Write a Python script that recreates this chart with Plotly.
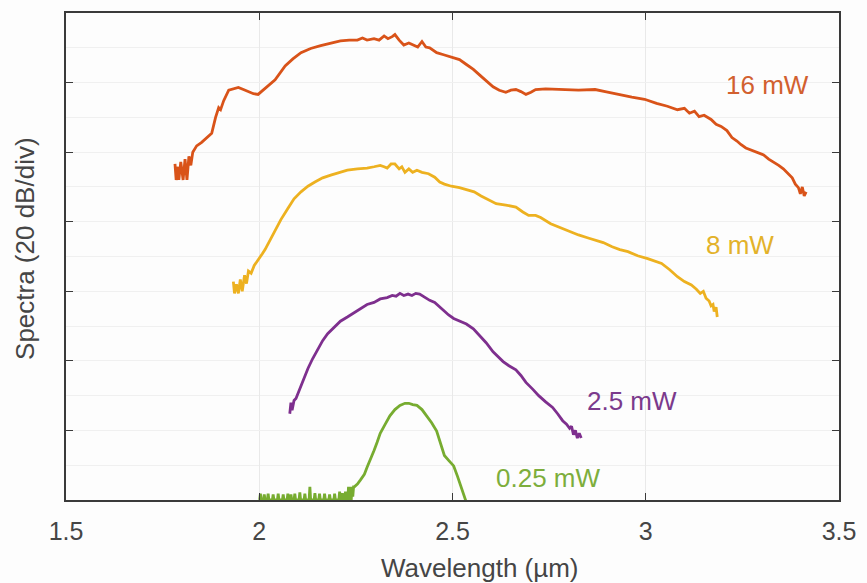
import plotly.graph_objects as go

# ---- data (wavelength in µm, level in divisions of 20 dB) ----
x16 = [1.782, 1.785, 1.790, 1.792, 1.797, 1.803, 1.808, 1.813, 1.818, 1.823, 1.828, 1.838, 1.851, 1.864,
       1.877, 1.887, 1.895, 1.900, 1.908, 1.921, 1.936, 1.946, 1.959, 1.972, 1.985, 1.997, 2.010, 2.023,
       2.041, 2.067, 2.087, 2.108, 2.133, 2.159, 2.185, 2.210, 2.233, 2.254, 2.267, 2.279, 2.297, 2.310,
       2.323, 2.333, 2.344, 2.351, 2.362, 2.374, 2.387, 2.400, 2.410, 2.421, 2.431, 2.441, 2.459, 2.477,
       2.497, 2.518, 2.536, 2.554, 2.572, 2.587, 2.605, 2.621, 2.638, 2.651, 2.664, 2.677, 2.690, 2.703,
       2.715, 2.741, 2.767, 2.792, 2.826, 2.851, 2.869, 2.895, 2.928, 2.964, 2.997, 3.028, 3.056, 3.082,
       3.100, 3.113, 3.126, 3.138, 3.151, 3.169, 3.182, 3.195, 3.210, 3.223, 3.236, 3.246, 3.259, 3.274,
       3.287, 3.305, 3.318, 3.331, 3.344, 3.356, 3.369, 3.379, 3.387, 3.395, 3.400, 3.405, 3.410, 3.415]
y16 = [4.83, 4.60, 4.79, 4.60, 4.86, 4.60, 4.90, 4.60, 4.94, 4.81, 5.00, 5.09, 5.14, 5.20,
       5.27, 5.50, 5.64, 5.61, 5.74, 5.89, 5.91, 5.93, 5.90, 5.87, 5.84, 5.83, 5.89, 5.96,
       6.04, 6.24, 6.34, 6.43, 6.49, 6.53, 6.57, 6.60, 6.61, 6.61, 6.64, 6.61, 6.63, 6.61,
       6.67, 6.63, 6.66, 6.69, 6.61, 6.54, 6.57, 6.54, 6.51, 6.59, 6.51, 6.50, 6.43, 6.40,
       6.37, 6.33, 6.26, 6.19, 6.10, 6.03, 5.94, 5.89, 5.86, 5.89, 5.90, 5.87, 5.83, 5.86,
       5.90, 5.91, 5.91, 5.90, 5.89, 5.90, 5.90, 5.87, 5.83, 5.79, 5.76, 5.70, 5.66, 5.61,
       5.63, 5.56, 5.59, 5.51, 5.53, 5.47, 5.40, 5.37, 5.31, 5.21, 5.16, 5.11, 5.06, 5.03,
       5.00, 4.96, 4.90, 4.86, 4.81, 4.76, 4.69, 4.63, 4.54, 4.49, 4.40, 4.50, 4.37, 4.43]

x8 = [1.933, 1.936, 1.941, 1.946, 1.951, 1.956, 1.962, 1.967, 1.972, 1.979, 1.987, 1.997, 2.008, 2.015,
      2.028, 2.041, 2.056, 2.074, 2.090, 2.108, 2.126, 2.144, 2.164, 2.185, 2.208, 2.228, 2.254, 2.279,
      2.297, 2.313, 2.323, 2.331, 2.341, 2.351, 2.362, 2.369, 2.377, 2.387, 2.397, 2.408, 2.421, 2.438,
      2.454, 2.467, 2.479, 2.497, 2.518, 2.536, 2.556, 2.574, 2.595, 2.613, 2.638, 2.664, 2.682, 2.697,
      2.715, 2.728, 2.754, 2.785, 2.805, 2.826, 2.849, 2.869, 2.890, 2.913, 2.933, 2.954, 2.979, 3.005,
      3.023, 3.041, 3.062, 3.082, 3.100, 3.118, 3.131, 3.141, 3.149, 3.156, 3.164, 3.169, 3.174, 3.177,
      3.182, 3.185]
y8 = [3.14, 2.97, 3.10, 2.97, 3.17, 3.00, 3.23, 3.11, 3.29, 3.26, 3.37, 3.46, 3.54, 3.60,
      3.74, 3.89, 4.03, 4.19, 4.33, 4.43, 4.51, 4.57, 4.63, 4.67, 4.71, 4.74, 4.76, 4.77,
      4.79, 4.81, 4.79, 4.77, 4.83, 4.83, 4.76, 4.79, 4.71, 4.76, 4.71, 4.74, 4.71, 4.69,
      4.64, 4.57, 4.54, 4.51, 4.49, 4.46, 4.43, 4.37, 4.31, 4.26, 4.24, 4.21, 4.14, 4.09,
      4.09, 4.06, 3.97, 3.90, 3.86, 3.81, 3.77, 3.74, 3.70, 3.64, 3.60, 3.57, 3.51, 3.47,
      3.43, 3.40, 3.31, 3.21, 3.14, 3.09, 3.03, 2.97, 3.00, 2.90, 2.86, 2.79, 2.81, 2.71,
      2.77, 2.63]

x25 = [2.079, 2.082, 2.085, 2.090, 2.095, 2.100, 2.113, 2.126, 2.138, 2.151, 2.164, 2.177, 2.192, 2.210,
       2.228, 2.246, 2.264, 2.279, 2.297, 2.313, 2.331, 2.344, 2.354, 2.364, 2.374, 2.385, 2.395, 2.405,
       2.415, 2.428, 2.441, 2.454, 2.467, 2.477, 2.490, 2.503, 2.518, 2.536, 2.554, 2.569, 2.587, 2.605,
       2.618, 2.631, 2.646, 2.664, 2.677, 2.690, 2.708, 2.723, 2.741, 2.759, 2.772, 2.785, 2.795, 2.803,
       2.808, 2.813, 2.818, 2.823, 2.828, 2.833]
y25 = [1.24, 1.40, 1.29, 1.43, 1.46, 1.53, 1.71, 1.89, 2.03, 2.16, 2.29, 2.39, 2.47, 2.57,
       2.63, 2.69, 2.76, 2.81, 2.84, 2.89, 2.91, 2.94, 2.93, 2.97, 2.94, 2.96, 2.94, 2.97,
       2.96, 2.91, 2.87, 2.84, 2.77, 2.73, 2.66, 2.61, 2.57, 2.53, 2.46, 2.37, 2.26, 2.13,
       2.06, 1.99, 1.93, 1.87, 1.79, 1.69, 1.59, 1.50, 1.41, 1.33, 1.24, 1.14, 1.09, 1.03,
       1.06, 0.94, 1.00, 0.89, 0.96, 0.89]

x025 = [2.001, 2.003, 2.005, 2.011, 2.013, 2.015, 2.021, 2.023, 2.025, 2.034, 2.036, 2.038, 2.047, 2.049,
        2.051, 2.060, 2.062, 2.064, 2.072, 2.074, 2.076, 2.080, 2.082, 2.084, 2.090, 2.092, 2.094, 2.103,
        2.105, 2.107, 2.116, 2.118, 2.120, 2.129, 2.131, 2.133, 2.142, 2.144, 2.146, 2.154, 2.156, 2.158,
        2.167, 2.169, 2.171, 2.180, 2.182, 2.184, 2.193, 2.195, 2.197, 2.206, 2.208, 2.210, 2.213, 2.215,
        2.217, 2.221, 2.223, 2.225, 2.229, 2.231, 2.234, 2.236, 2.238, 2.240, 2.242, 2.244, 2.246, 2.254,
        2.262, 2.272, 2.279, 2.287, 2.297, 2.305, 2.313, 2.326, 2.338, 2.351, 2.364, 2.377, 2.387, 2.397,
        2.408, 2.421, 2.433, 2.446, 2.459, 2.469, 2.479, 2.490, 2.503, 2.513, 2.523, 2.533, 2.538]
y025 = [0.00, 0.09, 0.00, 0.00, 0.08, 0.00, 0.00, 0.09, 0.00, 0.00, 0.08, 0.00, 0.00, 0.09,
        0.00, 0.00, 0.08, 0.00, 0.00, 0.09, 0.00, 0.00, 0.08, 0.00, 0.00, 0.09, 0.00, 0.00,
        0.11, 0.00, 0.00, 0.09, 0.00, 0.00, 0.19, 0.00, 0.00, 0.10, 0.00, 0.00, 0.09, 0.00,
        0.00, 0.09, 0.00, 0.00, 0.08, 0.00, 0.00, 0.09, 0.00, 0.00, 0.12, 0.00, 0.00, 0.10,
        0.00, 0.00, 0.12, 0.00, 0.00, 0.19, 0.00, 0.19, 0.00, 0.19, 0.05, 0.19, 0.19, 0.23,
        0.29, 0.37, 0.47, 0.57, 0.71, 0.83, 0.96, 1.09, 1.21, 1.30, 1.36, 1.39, 1.39, 1.37,
        1.36, 1.30, 1.21, 1.11, 0.99, 0.81, 0.64, 0.57, 0.49, 0.34, 0.17, 0.00, -0.07]

series_names = ["16 mW", "8 mW", "2.5 mW", "0.25 mW"]
line_colors = ["#D95319", "#EDB120", "#7E2F8E", "#77AC30"]
label_colors = ["#D2602F", "#E3B22A", "#7B3A8C", "#7DAE3C"]
label_x = [3.315, 3.243, 2.965, 2.748]
label_y = [5.97, 3.66, 1.43, 0.32]

x_ticks = [1.5, 2, 2.5, 3, 3.5]
x_tick_text = ["1.5", "2", "2.5", "3", "3.5"]

FONT = "Liberation Sans, Arial"
TXT = "#454545"

fig = go.Figure()
for xs, ys, name, col in zip([x16, x8, x25, x025], [y16, y8, y25, y025], series_names, line_colors):
    fig.add_trace(go.Scatter(x=xs, y=ys, mode="lines", name=name,
                             line=dict(color=col, width=2.8), showlegend=False))

for name, col, lx, ly in zip(series_names, label_colors, label_x, label_y):
    fig.add_annotation(x=lx, y=ly, text=name, showarrow=False,
                       font=dict(family=FONT, size=26, color=col))

# axis titles
fig.add_annotation(xref="paper", yref="paper", x=0.536, y=-0.139, text="Wavelength (µm)",
                   showarrow=False, xanchor="center", yanchor="middle",
                   font=dict(family=FONT, size=26, color=TXT))
fig.add_annotation(xref="paper", yref="paper", x=-0.054, y=0.516, text="Spectra (20 dB/div)",
                   showarrow=False, xanchor="center", yanchor="middle", textangle=-90,
                   font=dict(family=FONT, size=26, color=TXT))

axis_common = dict(
    showline=True, linecolor="#3a3a3a", linewidth=1.5, mirror="ticks",
    ticks="inside", ticklen=7, tickwidth=1.3, tickcolor="#3a3a3a",
    zeroline=False,
)

fig.update_xaxes(range=[1.5, 3.5], tickvals=x_ticks, ticktext=x_tick_text,
                 showgrid=True, gridcolor="#e9e9e9", gridwidth=1,
                 tickfont=dict(family=FONT, size=25, color=TXT), ticklabelstandoff=8,
                 **axis_common)
fig.update_yaxes(range=[0, 7], tickvals=[1, 2, 3, 4, 5, 6], showticklabels=False,
                 showgrid=True, gridcolor="#f0f0f0", gridwidth=1,
                 minor=dict(dtick=0.5, tick0=0, showgrid=True, gridcolor="#f0f0f0", ticks=""),
                 **axis_common)

fig.update_layout(
    width=867, height=583,
    margin=dict(l=66, r=21, t=11, b=83),
    paper_bgcolor="#fdfdfd", plot_bgcolor="#fdfdfd",
)

fig.write_html("out.html")
